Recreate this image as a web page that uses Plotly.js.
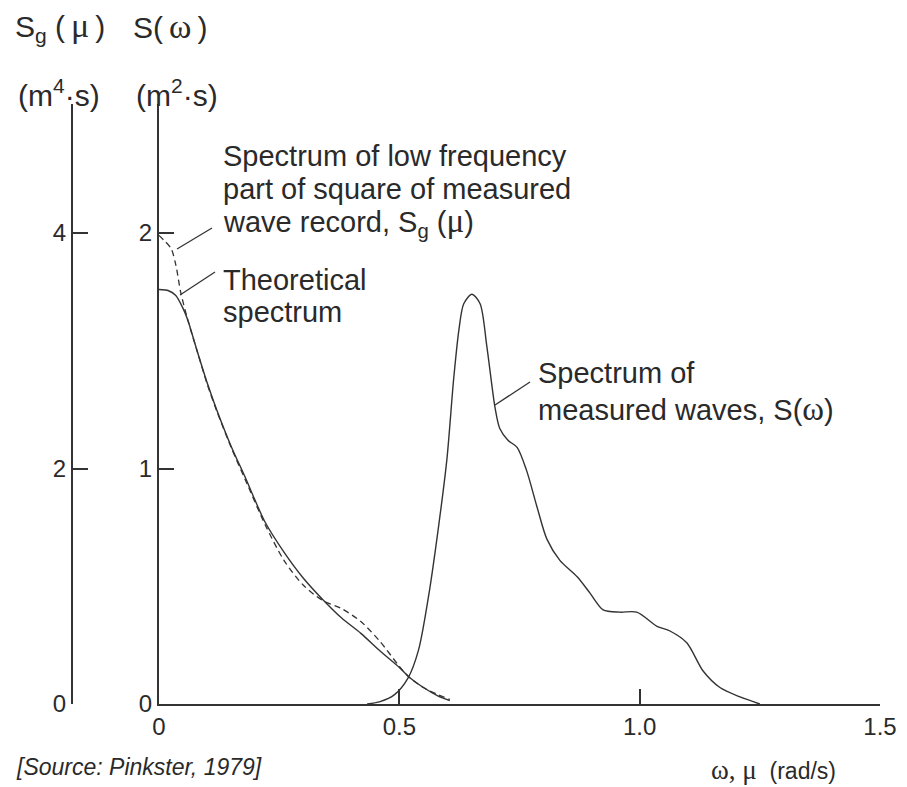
<!DOCTYPE html>
<html>
<head>
<meta charset="utf-8">
<script src="https://cdn.plot.ly/plotly-3.0.1.min.js"></script>
<style>html,body{margin:0;padding:0;background:#fff;}#chart{width:907px;height:787px;}</style>
</head>
<body>
<div id="chart"></div>
<script>
// ---- data ----
// Low-frequency spectra, outer axis Sg(mu) in m^4 s
const muLow = [0, 0.02, 0.035, 0.05, 0.06, 0.08, 0.10, 0.12, 0.15, 0.18, 0.22, 0.26, 0.30, 0.34, 0.38, 0.42, 0.46, 0.50, 0.52, 0.55, 0.58, 0.605];
const sgTheoretical = [3.52, 3.51, 3.47, 3.36, 3.26, 2.99, 2.73, 2.50, 2.19, 1.92, 1.55, 1.29, 1.07, 0.89, 0.73, 0.60, 0.45, 0.31, 0.23, 0.14, 0.07, 0.03];
const muMeasured = [0, 0.01, 0.025, 0.035, 0.045, 0.06, 0.08, 0.10, 0.12, 0.15, 0.18, 0.22, 0.26, 0.30, 0.34, 0.38, 0.42, 0.46, 0.50, 0.52, 0.55, 0.58, 0.605];
const sgMeasured = [3.98, 3.94, 3.87, 3.73, 3.50, 3.26, 2.99, 2.72, 2.49, 2.18, 1.90, 1.53, 1.22, 1.01, 0.88, 0.81, 0.70, 0.53, 0.32, 0.23, 0.14, 0.08, 0.04];
// Wave spectrum, inner axis S(omega) in m^2 s
const omega = [0.433, 0.46, 0.49, 0.518, 0.54, 0.561, 0.582, 0.599, 0.613, 0.624, 0.634, 0.651, 0.668, 0.682, 0.699, 0.709, 0.726, 0.745, 0.765, 0.786, 0.807, 0.834, 0.870, 0.897, 0.924, 0.959, 0.994, 1.036, 1.063, 1.098, 1.132, 1.167, 1.209, 1.25];
const sOmega = [0, 0.01, 0.04, 0.11, 0.23, 0.46, 0.76, 1.04, 1.38, 1.59, 1.70, 1.74, 1.70, 1.52, 1.26, 1.17, 1.12, 1.09, 0.99, 0.84, 0.70, 0.61, 0.54, 0.47, 0.40, 0.39, 0.39, 0.33, 0.31, 0.26, 0.14, 0.07, 0.03, 0];
// tick values / labels
const xTicks = [0, 0.5, 1.0, 1.5];
const xTickText = ['0', '0.5', '1.0', '1.5'];
const yTicks = [0, 1, 2];
const y2Ticks = [0, 2, 4];

// ---- layout geometry (pixels) ----
const W = 907, H = 787, ML = 72, MR = 27, MT = 104, MB = 83;
const PW = W - ML - MR, PH = H - MT - MB;
const px = p => (p - ML) / PW;
const py = p => (H - MB - p) / PH;

const FONT = 'Liberation Sans, Arial, Helvetica, sans-serif';
const SERIF = 'Liberation Serif';
const INK = '#2a2a2a';
const LINE = '#333';
const g = (s, size) => '<span style="font-family:' + SERIF + ';font-size:' + size + 'px">' + s + '</span>';
const T = '\u2009';

const traces = [
  {x: muLow, y: sgTheoretical, yaxis: 'y2', mode: 'lines', line: {color: LINE, width: 1.4, shape: 'spline', smoothing: 0.8}, hoverinfo: 'skip'},
  {x: muMeasured, y: sgMeasured, yaxis: 'y2', mode: 'lines', line: {color: LINE, width: 1.3, dash: '6px,4px', shape: 'spline', smoothing: 0.8}, hoverinfo: 'skip'},
  {x: omega, y: sOmega, yaxis: 'y', mode: 'lines', line: {color: LINE, width: 1.4, shape: 'spline', smoothing: 0.8}, hoverinfo: 'skip'}
];

function txt(text, x, y, size, opts) {
  return Object.assign({text: text, xref: 'paper', yref: 'paper', x: px(x), y: py(y), xanchor: 'left', yanchor: 'middle',
    showarrow: false, font: {family: FONT, size: size, color: INK}}, opts || {});
}

const annotations = [
  txt('S<sub>g</sub> (' + T + g('μ', 34) + T + ')', 60, 27, 30, {xanchor: 'center'}),
  txt('S(' + T + g('ω', 34) + T + ')', 170, 27, 30, {xanchor: 'center'}),
  txt('(m<sup>4</sup>·s)', 59, 93, 30, {xanchor: 'center'}),
  txt('(m<sup>2</sup>·s)', 177, 93, 30, {xanchor: 'center'}),
  txt('Spectrum of low frequency', 221, 156, 29),
  txt('part of square of measured', 221, 189, 29),
  txt('wave record, S<sub>g</sub> (' + g('μ', 33) + ')', 221, 222, 29),
  txt('Theoretical', 221, 280, 29),
  txt('spectrum', 221, 312, 29),
  txt('Spectrum of', 536, 373, 29),
  txt('measured waves, S(' + g('ω', 33) + ')', 536, 409, 29),
  txt(g('ω, μ', 27) + '  (rad/s)', 773, 770, 23, {xanchor: 'center'}),
  txt('<i>[Source: Pinkster, 1979]</i>', 14, 767, 23)
];

const leader = (x0, y0, x1, y1) => ({type: 'line', xref: 'paper', yref: 'paper', x0: px(x0), y0: py(y0), x1: px(x1), y1: py(y1), line: {color: LINE, width: 1.3}});
const shapes = [
  leader(212, 228, 177, 249),
  leader(215, 272, 180, 295),
  leader(530, 382, 495, 405)
];

const axisCommon = {showgrid: false, zeroline: false, showline: true, linecolor: LINE, linewidth: 2,
  ticks: 'inside', ticklen: 15, tickwidth: 2, tickcolor: LINE, tickfont: {family: FONT, size: 24, color: INK}, fixedrange: true};

const layout = {
  width: W, height: H, margin: {l: ML, r: MR, t: MT, b: MB, pad: 0},
  paper_bgcolor: '#fff', plot_bgcolor: '#fff', showlegend: false,
  xaxis: Object.assign({}, axisCommon, {domain: [px(159), 1], range: [0, 1.5], tickvals: xTicks, ticktext: xTickText, anchor: 'y'}),
  yaxis: Object.assign({}, axisCommon, {range: [0, 2.548], tickvals: yTicks, ticktext: yTicks.map(String), anchor: 'x'}),
  yaxis2: Object.assign({}, axisCommon, {range: [0, 5.096], tickvals: y2Ticks, ticktext: y2Ticks.map(String), overlaying: 'y', anchor: 'free', position: 0, side: 'left'}),
  annotations: annotations,
  shapes: shapes
};

Plotly.newPlot('chart', traces, layout, {staticPlot: true, displayModeBar: false});
</script>
</body>
</html>
